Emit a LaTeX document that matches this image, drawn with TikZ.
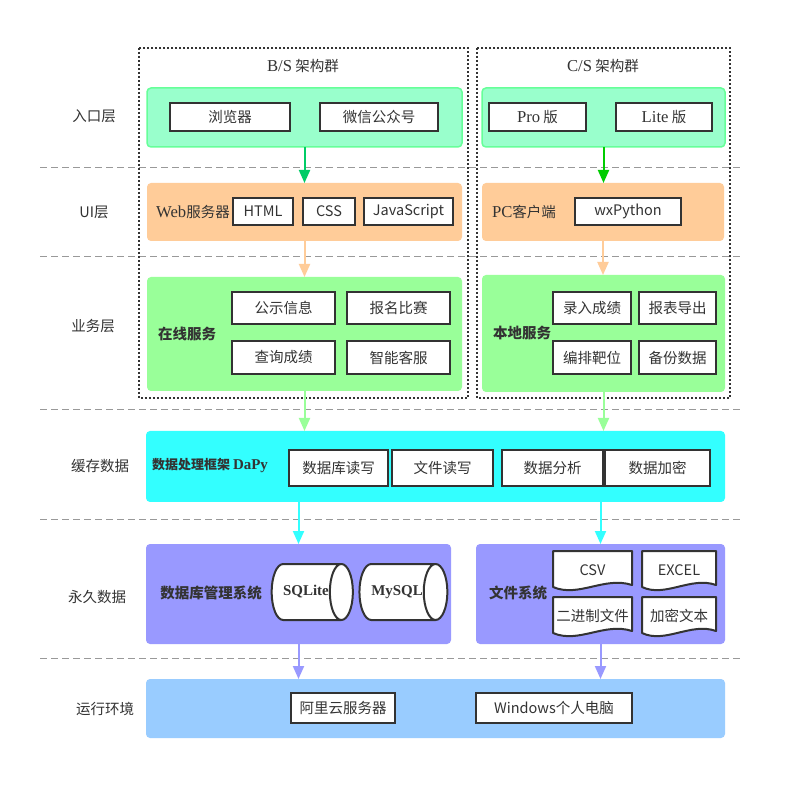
\documentclass[tikz,border=0pt]{standalone}
\usepackage{fontspec}
\setmainfont{Noto Sans CJK SC}
\newfontfamily\latser[Scale=1.15]{Liberation Serif}
\usepackage{tikz}
\usetikzlibrary{
	arrows.meta,
	shapes.geometric,
	positioning,
	}
\definecolor{txtgray}{HTML}{333333}
\definecolor{sepgray}{HTML}{999999}
\definecolor{entryfill}{HTML}{99FFCC}
\definecolor{entryline}{HTML}{66FF99}
\definecolor{uifill}{HTML}{FFCC99}
\definecolor{svcfill}{HTML}{99FF99}
\definecolor{datafill}{HTML}{33FFFF}
\definecolor{storefill}{HTML}{9999FF}
\definecolor{envfill}{HTML}{99CCFF}
\definecolor{arrgreenA}{HTML}{00CC66}
\definecolor{arrgreenB}{HTML}{00CC00}
% document shape with wavy bottom: name, x, y, half width, text
\newcommand{\docnode}[5]{%
	\draw[line width=2pt,draw=txtgray,fill=white,line join=round] (#2-#4,#3-20) -- (#2+#4,#3-20) -- (#2+#4,#3+14) .. controls (#2+12,#3+5) and (#2-14,#3+27) .. (#2-#4,#3+16) -- cycle;
	\node[inner sep=0pt] (#1) at (#2,#3-1) {#5};}

\begin{document}
\begin{tikzpicture}[x=1pt,y=-1pt,font=\fontsize{14.5}{17}\selectfont,text=txtgray,
	panel/.style={rounded corners=4pt,inner sep=0pt,outer sep=0pt},
	item/.style={draw=txtgray,line width=2pt,fill=white,inner sep=0pt,outer sep=0pt,minimum height=28pt},
	grp/.style={draw=txtgray,line width=1.6pt,dash pattern=on 1.6pt off 2.4pt},
	sep/.style={draw=sepgray,line width=1pt,dash pattern=on 7pt off 4pt},
	arr/.style={line width=2pt,-{Triangle[width=11pt,length=13pt]}},
	cyl/.style={cylinder,shape border rotate=0,shape aspect=1.8,draw=txtgray,line width=2pt,fill=white,minimum width=56pt,minimum height=72pt,inner sep=0pt,font=\latser\bfseries\fontsize{13}{15}\selectfont},
	lbl/.style={inner sep=0pt,font=\bfseries\fontsize{14.5}{17}\selectfont}]
\useasboundingbox (0,0) rectangle (801,799);
\fill[white] (0,0) rectangle (801,799);
% layer separators
\foreach \y in {168,257,410,519,658}
	\draw[sep] (40,\y) -- (740,\y);
% architecture groups
\draw[grp] (139,48) rectangle (468,398);
\draw[grp] (477,48) rectangle (730,398);
\node[inner sep=0pt] (bstitle) at (303,66) {{\latser B/S} 架构群};
\node[inner sep=0pt] (cstitle) at (603,66) {{\latser C/S} 架构群};
% level names
\node[inner sep=0pt] (lentry) at (94,116) {入口层};
\node[inner sep=0pt] (lui) at (94,212) {UI层};
\node[inner sep=0pt] (lsvc) at (93,326) {业务层};
\node[inner sep=0pt] (lcache) at (100,466) {缓存数据};
\node[inner sep=0pt] (lstore) at (97,597) {永久数据};
\node[inner sep=0pt] (lenv) at (105,709) {运行环境};
% entry
\node[panel,fill=entryfill,draw=entryline,line width=1.5pt,minimum width=315pt,minimum height=59pt] (bsin) at (304.5,117.5) {};
\node[panel,fill=entryfill,draw=entryline,line width=1.5pt,minimum width=243pt,minimum height=59pt] (csin) at (603.5,117.5) {};
\node[item,minimum width=120pt] (browser) at (230,117) {浏览器};
\node[item,minimum width=118pt] (wechat) at (379,117) {微信公众号};
\node[item,minimum width=97pt] (pro) at (537.5,117) {{\latser Pro} 版};
\node[item,minimum width=96pt] (lite) at (664,117) {{\latser Lite} 版};
% UI
\node[panel,fill=uifill,minimum width=315pt,minimum height=58pt] (bsui) at (304.5,212) {};
\node[panel,fill=uifill,minimum width=242pt,minimum height=58pt] (csui) at (603,212) {};
\node[inner sep=0pt] (webserver) at (193,212) {{\latser Web}服务器};
\node[item,minimum width=60pt,minimum height=27pt] (html) at (263,211.5) {HTML};
\node[item,minimum width=52pt,minimum height=27pt] (css) at (329,211.5) {CSS};
\node[item,minimum width=89pt,minimum height=27pt] (js) at (408.5,211.5) {JavaScript};
\node[inner sep=0pt] (pcclient) at (524,212) {{\latser PC}客户端};
\node[item,minimum width=106pt,minimum height=27pt] (wx) at (628,211.5) {wxPython};
% business
\node[panel,fill=svcfill,minimum width=315pt,minimum height=114pt] (bssvc) at (304.5,334) {};
\node[panel,fill=svcfill,minimum width=243pt,minimum height=117pt] (cssvc) at (603.5,333.5) {};
\node[lbl] (online) at (187,334) {在线服务};
\node[item,minimum width=103pt,minimum height=32pt] (notice) at (283.5,308) {公示信息};
\node[item,minimum width=103pt,minimum height=32pt] (signup) at (398.5,308) {报名比赛};
\node[item,minimum width=103pt,minimum height=33pt] (query) at (283.5,357.5) {查询成绩};
\node[item,minimum width=103pt,minimum height=33pt] (service) at (398.5,357.5) {智能客服};
\node[lbl] (local) at (522,333) {本地服务};
\node[item,minimum width=78pt,minimum height=32pt] (record) at (592,308) {录入成绩};
\node[item,minimum width=77pt,minimum height=32pt] (report) at (677.5,308) {报表导出};
\node[item,minimum width=78pt,minimum height=33pt] (targets) at (592,357.5) {编排靶位};
\node[item,minimum width=77pt,minimum height=33pt] (backup) at (677.5,357.5) {备份数据};
% cache
\node[panel,fill=datafill,minimum width=579pt,minimum height=71pt] (dapy) at (435.5,466.5) {};
\node[lbl,font=\bfseries\fontsize{13}{15}\selectfont] (dapyname) at (210,466) {数据处理框架 {\latser DaPy}};
\node[item,minimum width=99pt,minimum height=36pt] (dbrw) at (338.5,468) {数据库读写};
\node[item,minimum width=101pt,minimum height=36pt] (filerw) at (442.5,468) {文件读写};
\node[item,minimum width=101pt,minimum height=36pt] (analysis) at (552.5,468) {数据分析};
\node[item,minimum width=105pt,minimum height=36pt] (encrypt) at (657.5,468) {数据加密};
% storage
\node[panel,fill=storefill,minimum width=305pt,minimum height=100pt] (dbms) at (298.5,594) {};
\node[panel,fill=storefill,minimum width=249pt,minimum height=100pt] (fsys) at (600.5,594) {};
\node[lbl] (dbmsname) at (211,593) {数据库管理系统};
\node[cyl] (sqlite) at (306,592) {SQLite};
\node[cyl,minimum height=70pt] (mysql) at (397,592) {MySQL};
\node[lbl] (fsysname) at (518,593) {文件系统};
\docnode{csv}{592.5}{571}{39.5}{CSV}
\docnode{excel}{679}{571}{37}{EXCEL}
\docnode{binfile}{592.5}{617}{39.5}{二进制文件}
\docnode{enctext}{679}{617}{37}{加密文本}
% runtime
\node[panel,fill=envfill,minimum width=579pt,minimum height=59pt] (env) at (435.5,708.5) {};
\node[item,minimum width=104pt,minimum height=30pt] (aliyun) at (343,708) {阿里云服务器};
\node[item,minimum width=156pt,minimum height=30pt] (pc) at (554,708) {Windows个人电脑};
% flows
\draw[arr,draw=arrgreenA] (bsin.south) -- (bsui.north);
\draw[arr,draw=arrgreenB] (csin.south) -- (csin.south |- csui.north);
\draw[arr,draw=uifill] (bsui.south) -- (bssvc.north);
\draw[arr,draw=uifill] (csui.south) -- (csui.south |- cssvc.north);
\draw[arr,draw=svcfill] (bssvc.south) -- (bssvc.south |- dapy.north);
\draw[arr,draw=svcfill] (cssvc.south) -- (cssvc.south |- dapy.north);
\draw[arr,draw=datafill] (dbms.north |- dapy.south) -- (dbms.north);
\draw[arr,draw=datafill] (fsys.north |- dapy.south) -- (fsys.north);
\draw[arr,draw=storefill] (dbms.south) -- (dbms.south |- env.north);
\draw[arr,draw=storefill] (fsys.south) -- (fsys.south |- env.north);
\end{tikzpicture}
\end{document}
